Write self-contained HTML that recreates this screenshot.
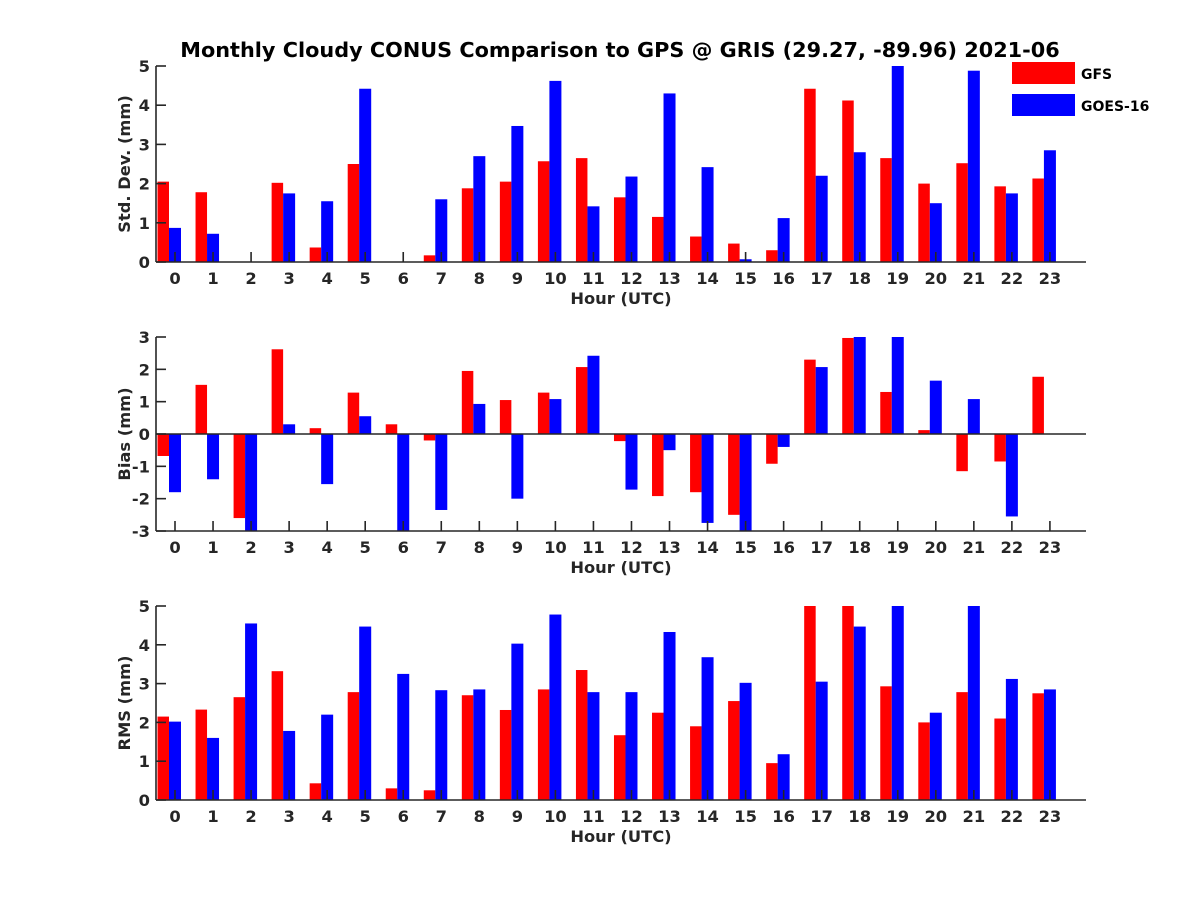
<!DOCTYPE html>
<html><head><meta charset="utf-8"><style>
body{margin:0;background:#fff}
svg text{font-family:"DejaVu Sans","Liberation Sans",sans-serif;font-weight:bold;fill:#262626}
</style></head><body>
<svg id="chart" width="1200" height="900" viewBox="0 0 1200 900" xmlns="http://www.w3.org/2000/svg">
<rect width="1200" height="900" fill="#fff"/>
<text x="620" y="57" text-anchor="middle" font-size="20.8" style="fill:#000">Monthly Cloudy CONUS Comparison to GPS @ GRIS (29.27, -89.96) 2021-06</text>
<g id="legend">
<rect x="1012" y="62" width="63" height="22" fill="#ff0000"/>
<text x="1081" y="79" font-size="14" style="fill:#000">GFS</text>
<rect x="1012" y="94" width="63" height="22" fill="#0000ff"/>
<text x="1081" y="111" font-size="14" style="fill:#000">GOES-16</text>
</g>
</svg>
<script>
const hours = [0,1,2,3,4,5,6,7,8,9,10,11,12,13,14,15,16,17,18,19,20,21,22,23];
const stdGFS = [2.05,1.78,0,2.02,0.37,2.5,0,0.17,1.88,2.05,2.57,2.65,1.65,1.15,0.65,0.47,0.3,4.42,4.12,2.65,2.0,2.52,1.93,2.13];
const stdGOES = [0.87,0.72,0,1.75,1.55,4.42,0,1.6,2.7,3.47,4.62,1.42,2.18,4.3,2.42,0.07,1.12,2.2,2.8,5,1.5,4.88,1.75,2.85];
const biasGFS = [-0.68,1.52,-2.6,2.62,0.18,1.28,0.3,-0.2,1.95,1.05,1.28,2.07,-0.22,-1.92,-1.8,-2.5,-0.92,2.3,2.97,1.3,0.12,-1.15,-0.85,1.77];
const biasGOES = [-1.8,-1.4,-3,0.3,-1.55,0.55,-3,-2.35,0.93,-2.0,1.08,2.42,-1.72,-0.5,-2.75,-3,-0.4,2.07,3,3,1.65,1.08,-2.55,0];
const rmsGFS = [2.15,2.33,2.65,3.32,0.43,2.78,0.3,0.25,2.7,2.32,2.85,3.35,1.67,2.25,1.9,2.55,0.95,5,5,2.93,2.0,2.78,2.1,2.75];
const rmsGOES = [2.02,1.6,4.55,1.78,2.2,4.47,3.25,2.83,2.85,4.03,4.78,2.78,2.78,4.33,3.68,3.02,1.18,3.05,4.47,5,2.25,5,3.12,2.85];
const stdTicks = [0,1,2,3,4,5];
const biasTicks = [-3,-2,-1,0,1,2,3];
const rmsTicks = [0,1,2,3,4,5];

const NS = "http://www.w3.org/2000/svg";
const svg = document.getElementById('chart');
function mk(tag, attrs, parent){const e=document.createElementNS(NS,tag);for(const k in attrs)e.setAttribute(k,attrs[k]);(parent||svg).appendChild(e);return e;}
const x0 = 175, dx = 38.04, left = 156, right = 1086;
const xScale = h => x0 + h*dx;

function panel(name, top, bottom, ymin, ymax, ticks, gfs, goes, ylabel){
  const g = mk('g', {});
  
  
  const yScale = v => bottom - (v - ymin) / (ymax - ymin) * (bottom - top);
  const base = yScale(Math.max(ymin, Math.min(0, ymax)));
  hours.forEach((h, i) => {
    const x = xScale(h);
    const drawBar = (v, xa, w, col, series) => {
      const vc = Math.max(ymin, Math.min(ymax, v));
      const y = yScale(vc);
      if (Math.abs(y - base) < 0.01) return;
      const r = mk('rect', {x: xa, y: Math.min(y, base), width: w, height: Math.abs(base - y), fill: col}, g);
      
      
    };
    drawBar(gfs[i], x - 17.5, 11.5, '#ff0000', 'gfs');
    drawBar(goes[i], x - 6, 12, '#0000ff', 'goes16');
  });
  const ax = mk('g', {}, g);
  
  
  mk('line', {x1: left, y1: top, x2: left, y2: bottom, stroke: '#262626', 'stroke-width': 1.6}, ax);
  mk('line', {x1: left, y1: bottom, x2: right, y2: bottom, stroke: '#262626', 'stroke-width': 1.6}, ax);
  if (ymin < 0) mk('line', {x1: left, y1: base, x2: right, y2: base, stroke: '#262626', 'stroke-width': 1.6}, ax);
  ticks.forEach(t => {
    const y = yScale(t);
    mk('line', {x1: left, y1: y, x2: left + 10, y2: y, stroke: '#262626', 'stroke-width': 1.6}, ax);
    const tx = mk('text', {x: left - 6, y: y + 6, 'text-anchor': 'end', 'font-size': 16.3}, ax);
    tx.textContent = t;
    
    
  });
  hours.forEach(h => {
    const x = xScale(h);
    mk('line', {x1: x, y1: bottom, x2: x, y2: bottom - 10, stroke: '#262626', 'stroke-width': 1.6}, ax);
    const tx = mk('text', {x: x, y: bottom + 22, 'text-anchor': 'middle', 'font-size': 16.3}, ax);
    tx.textContent = h;
    
    
  });
  const xl = mk('text', {x: 621, y: bottom + 42, 'text-anchor': 'middle', 'font-size': 16.3}, ax);
  xl.textContent = 'Hour (UTC)';
  
  
  const cy = (top + bottom) / 2;
  const yl = mk('text', {x: 0, y: 0, 'text-anchor': 'middle', 'font-size': 16.3, transform: 'translate(130,' + cy + ') rotate(-90)'}, ax);
  yl.textContent = ylabel;
  
  
}
panel('std', 66, 262, 0, 5, stdTicks, stdGFS, stdGOES, 'Std. Dev. (mm)');
panel('bias', 337, 531, -3, 3, biasTicks, biasGFS, biasGOES, 'Bias (mm)');
panel('rms', 606, 800, 0, 5, rmsTicks, rmsGFS, rmsGOES, 'RMS (mm)');
svg.appendChild(document.getElementById('legend'));
</script>
</body></html>
